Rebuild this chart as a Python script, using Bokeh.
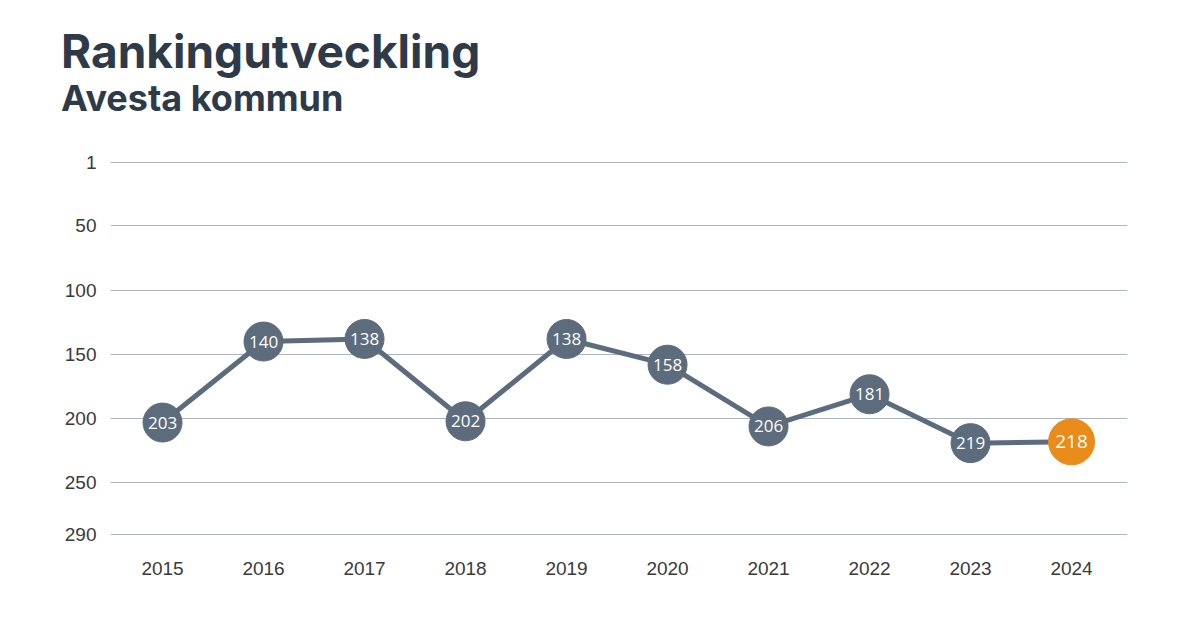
from bokeh.plotting import figure
from bokeh.models import ColumnDataSource, Range1d, FixedTicker, Div
from bokeh.layouts import column
from bokeh.core.properties import value
from bokeh.embed import file_html
from bokeh.resources import INLINE

# ---- data ----
years = [2015, 2016, 2017, 2018, 2019, 2020, 2021, 2022, 2023, 2024]
ranks = [203, 140, 138, 202, 138, 158, 206, 181, 219, 218]
y_ticks = [1, 50, 100, 150, 200, 250, 290]
title_text = "Rankingutveckling"
subtitle_text = "Avesta kommun"

SLATE = "#5d6c7c"
ORANGE = "#e98c1a"
DARK = "#2e3a48"
HEAD_H = 138

head = Div(
    text=(
        f'<div style="position:relative;width:1193px;height:{HEAD_H}px;'
        f'font-family:Inter;font-weight:bold;color:{DARK};">'
        f'<div style="position:absolute;left:61px;top:28px;font-size:46px;line-height:1;'
        f'white-space:nowrap;">{title_text}</div>'
        f'<div style="position:absolute;left:61px;top:80px;font-size:36px;line-height:1;'
        f'white-space:nowrap;">{subtitle_text}</div></div>'
    ),
    width=1193, height=HEAD_H, margin=0,
)

p = figure(width=1193, height=644 - HEAD_H, output_backend="svg", toolbar_location=None,
           x_range=Range1d(2014.485, 2024.554), y_range=Range1d(302.5, -8.57),
           min_border_left=110, min_border_right=66, min_border_bottom=94,
           min_border_top=12, margin=0)
p.outline_line_color = None
p.background_fill_color = "white"
p.border_fill_color = "white"

# axes
p.xgrid.grid_line_color = None
p.ygrid.grid_line_color = "#aab6c0"
p.ygrid.grid_line_width = 1.2
p.yaxis.ticker = FixedTicker(ticks=y_ticks)
p.xaxis.ticker = FixedTicker(ticks=years)
for ax in (p.xaxis, p.yaxis):
    ax.axis_line_color = None
    ax.major_tick_line_color = None
    ax.minor_tick_line_color = None
    ax.major_tick_out = 0
    ax.major_tick_in = 0
    ax.major_label_text_font = "Liberation Sans"
    ax.major_label_text_font_size = "19px"
    ax.major_label_text_color = "#3a3a3a"
p.yaxis.major_label_standoff = 14
p.xaxis.major_label_standoff = 11

src = ColumnDataSource(dict(x=years, y=ranks, lbl=[str(r) for r in ranks]))
last = ColumnDataSource(dict(x=years[-1:], y=ranks[-1:], lbl=[str(ranks[-1])]))
rest = ColumnDataSource(dict(x=years[:-1], y=ranks[:-1], lbl=[str(r) for r in ranks[:-1]]))

p.line("x", "y", source=src, line_color=SLATE, line_width=5)
p.scatter("x", "y", source=rest, size=39, fill_color=SLATE, line_color=SLATE)
p.scatter("x", "y", source=last, size=46, fill_color=ORANGE, line_color=ORANGE)
p.text("x", "y", text="lbl", source=rest, text_align="center", text_baseline="middle",
       text_color="white", text_font=value("Open Sans"), text_font_size="17px")
p.text("x", "y", text="lbl", source=last, text_align="center", text_baseline="middle",
       text_color="white", text_font=value("Open Sans"), text_font_size="19px")

layout = column(head, p, spacing=0, margin=0)
open("out.html", "w").write(file_html(layout, INLINE))
